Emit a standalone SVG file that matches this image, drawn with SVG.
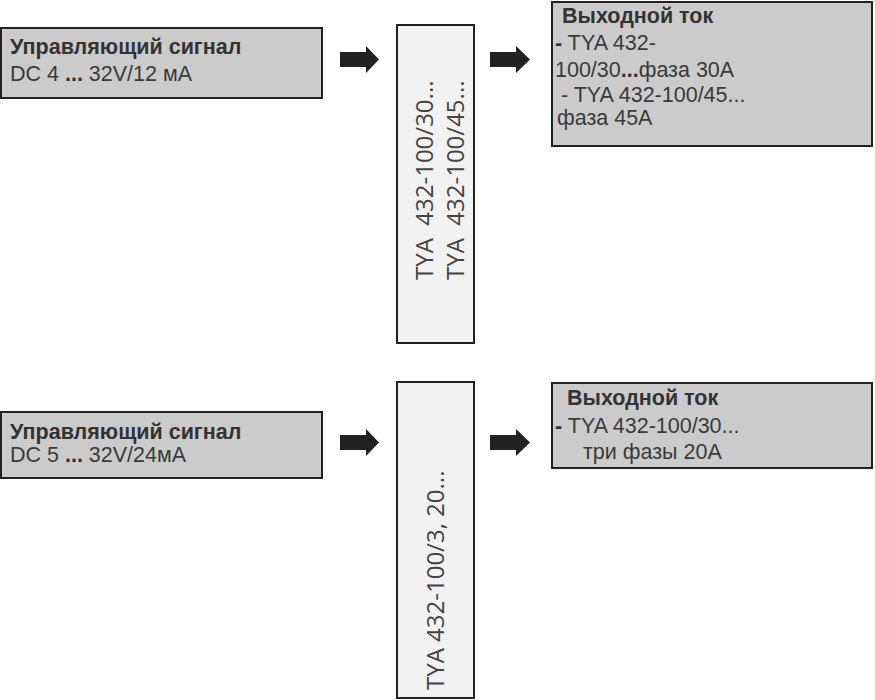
<svg xmlns="http://www.w3.org/2000/svg" width="875" height="700" viewBox="0 0 875 700">
<style>
.box{fill:#cbcbcb;stroke:#222;stroke-width:2}
.vbox{fill:#f2f2f2;stroke:#222;stroke-width:2}
.t{font-family:"Liberation Sans",Arial,sans-serif;font-size:21.5px;fill:#3a3a3a}
.b{font-weight:bold;fill:#333}
.v{font-family:"Open Sans","Noto Sans",sans-serif;font-size:24px;fill:#444;white-space:pre}
.arrow{fill:#222}
</style>
<rect width="875" height="700" fill="#fff"/>
<g id="signal1">
<rect class="box" x="1" y="28" width="321" height="70"/>
<text class="t b" x="10" y="54">Управляющий сигнал</text>
<text class="t" x="10" y="81">DC 4 <tspan class="b">...</tspan> 32V/12 мА</text>
</g>
<g id="device1">
<rect class="vbox" x="397" y="25" width="77" height="318"/>
<text class="v" transform="translate(433,280) rotate(-90)" xml:space="preserve">TYA  432-100/30...</text>
<text class="v" transform="translate(464,280) rotate(-90)" xml:space="preserve">TYA  432-100/45...</text>
</g>
<g id="output1">
<rect class="box" x="552" y="2" width="320" height="144"/>
<text class="t b" x="562" y="23">Выходной ток</text>
<text class="t" x="555" y="50"><tspan class="b">-</tspan> TYA 432-</text>
<text class="t" x="555" y="77">100/30<tspan class="b">...</tspan>фаза 30A</text>
<text class="t" x="555" y="102" xml:space="preserve"> - TYA 432-100/45...</text>
<text class="t" x="557" y="125">фаза 45A</text>
</g>
<g id="signal2">
<rect class="box" x="1" y="412" width="321" height="66"/>
<text class="t b" x="10" y="439">Управляющий сигнал</text>
<text class="t" x="10" y="462">DC 5 <tspan class="b">...</tspan> 32V/24мА</text>
</g>
<g id="device2">
<rect class="vbox" x="397" y="382" width="77" height="316"/>
<text class="v" transform="translate(444,690) rotate(-90)">TYA 432-100/3, 20...</text>
</g>
<g id="output2">
<rect class="box" x="552" y="383" width="320" height="85"/>
<text class="t b" x="567" y="405">Выходной ток</text>
<text class="t" x="555" y="433"><tspan class="b">-</tspan> TYA 432-100/30...</text>
<text class="t" x="583" y="459">три фазы 20A</text>
</g>
<g id="connectors">
<path class="arrow" d="M340,52 H366 V46 L379,59.5 L366,73 V67 H340 Z"/>
<path class="arrow" d="M490,52 H516 V46 L530,59.5 L516,73 V67 H490 Z"/>
<path class="arrow" d="M340,435 H366 V429 L379,442.5 L366,456 V450 H340 Z"/>
<path class="arrow" d="M490,435 H516 V429 L530,442.5 L516,456 V450 H490 Z"/>
</g>
</svg>
